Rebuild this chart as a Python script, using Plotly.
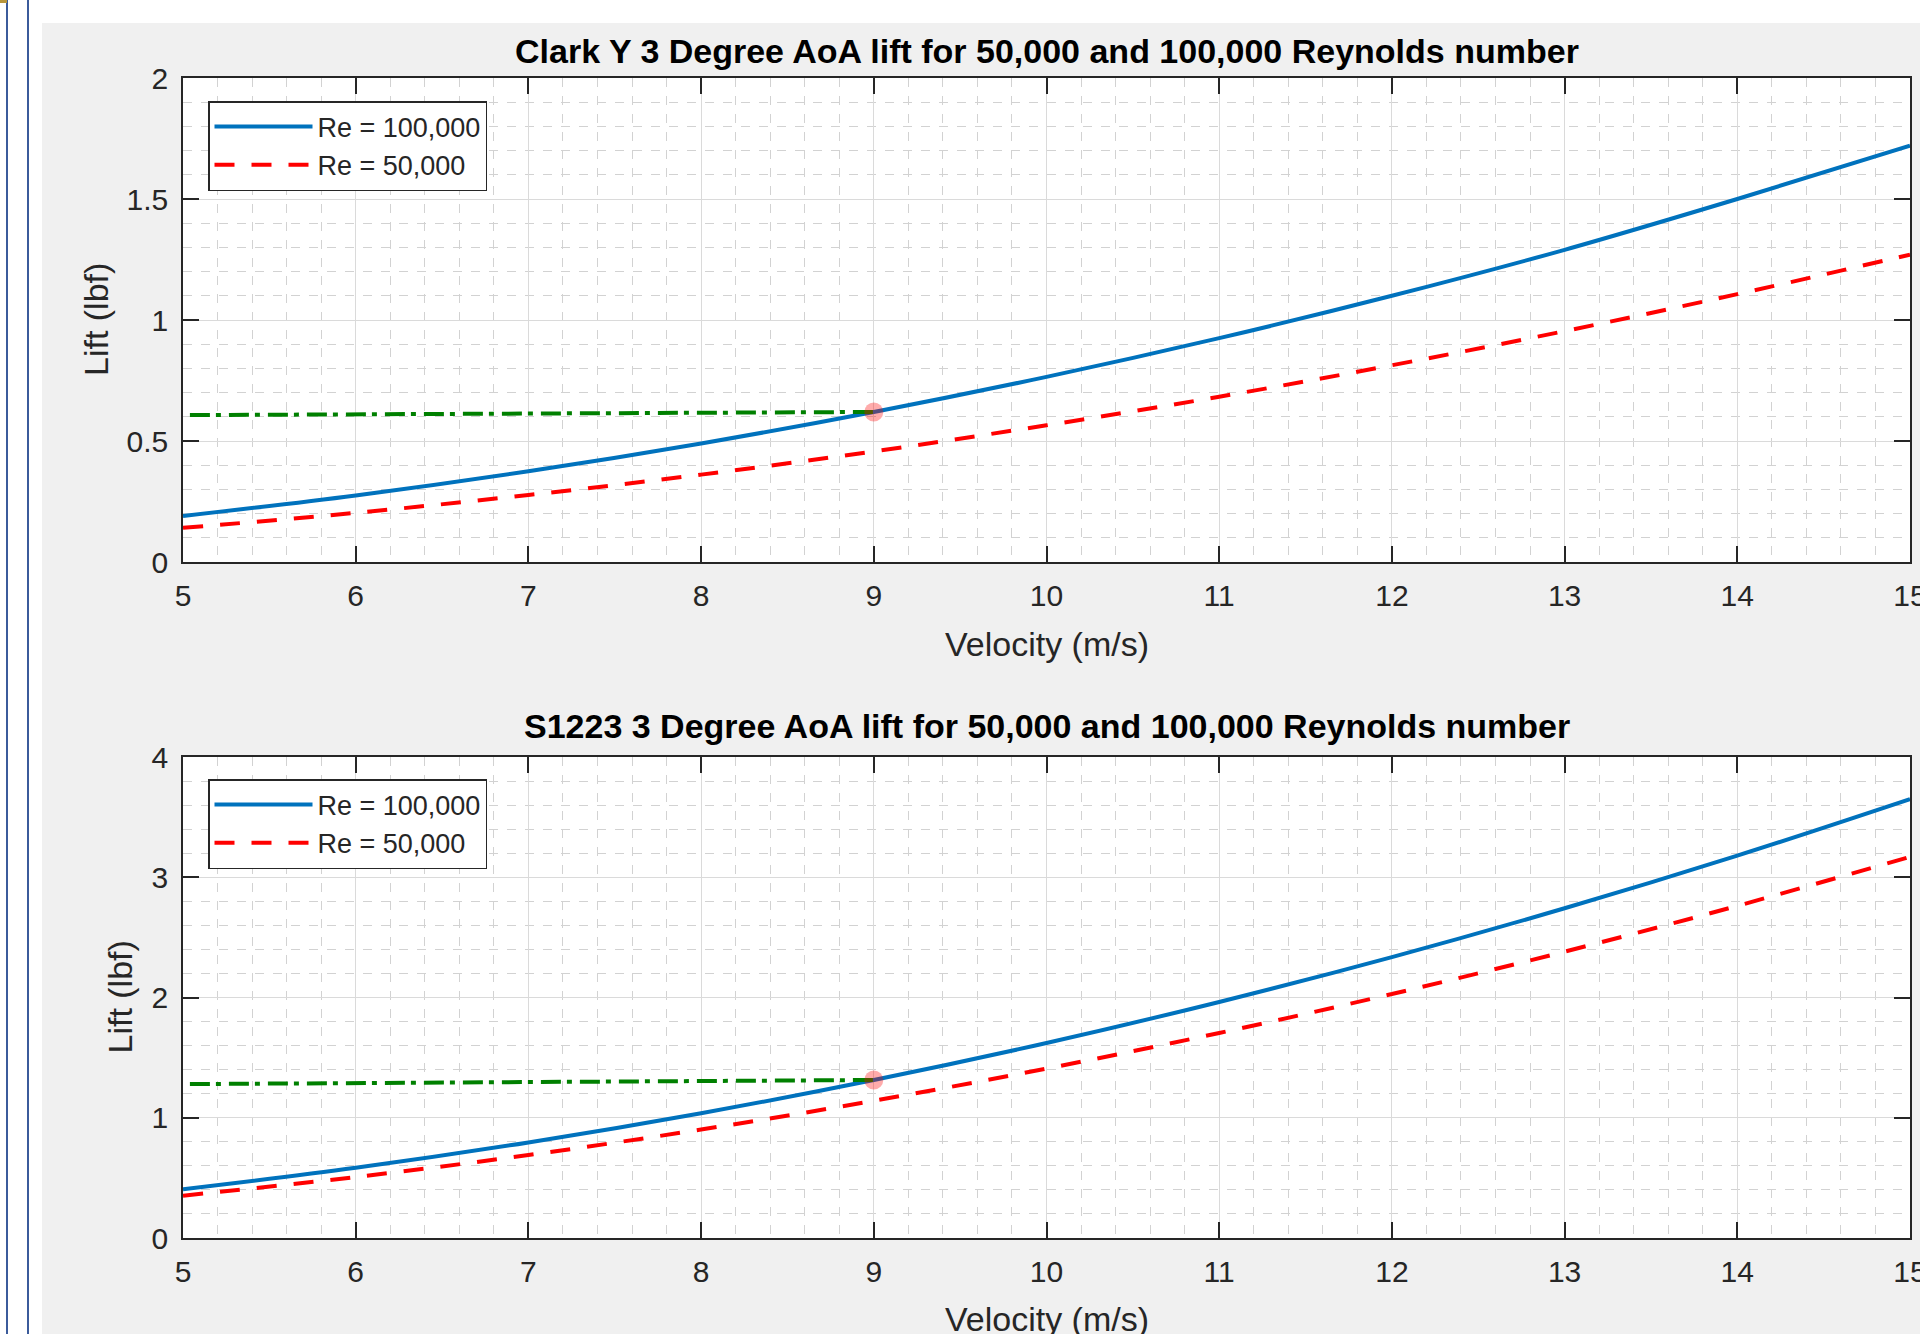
import plotly.graph_objects as go

# ---------------- data ----------------
velocity = [5, 6, 7, 8, 9, 10, 11, 12, 13, 14, 15]
clark_re100k = [0.19, 0.275, 0.375, 0.49, 0.62, 0.765, 0.925, 1.10, 1.29, 1.50, 1.72]
clark_re50k = [0.141, 0.203, 0.277, 0.361, 0.457, 0.565, 0.683, 0.813, 0.954, 1.107, 1.27]
s1223_re100k = [0.406, 0.584, 0.795, 1.038, 1.314, 1.622, 1.963, 2.336, 2.742, 3.18, 3.65]
s1223_re50k = [0.352, 0.507, 0.690, 0.902, 1.141, 1.409, 1.705, 2.029, 2.381, 2.762, 3.17]
design_velocity = [5.04, 9]
clark_design_lift = [0.607, 0.62]
s1223_design_lift = [1.28, 1.314]
marker_velocity = [9]
clark_marker_lift = [0.62]
s1223_marker_lift = [1.314]

x_ticks = [5, 6, 7, 8, 9, 10, 11, 12, 13, 14, 15]
top_y_ticks = [0, 0.5, 1, 1.5, 2]
bottom_y_ticks = [0, 1, 2, 3, 4]

titles = ["Clark Y 3 Degree AoA lift for 50,000 and 100,000 Reynolds number",
          "S1223 3 Degree AoA lift for 50,000 and 100,000 Reynolds number"]
x_label = "Velocity (m/s)"
y_label = "Lift (lbf)"
legend_names = ["Re = 100,000", "Re = 50,000"]

# ---------------- styling ----------------
W, H = 1920, 1334
FONT = "Liberation Sans, Arial, Helvetica, sans-serif"
BLUE = "#0072BD"
RED = "#FF0000"
GREEN = "#008000"
AX = "#262626"


def px_x(p):
    """page x pixel -> paper fraction"""
    return p / W


def px_y(p):
    """page y pixel -> paper fraction"""
    return 1 - p / H


fig = go.Figure()

panels = [
    dict(xa="x", ya="y", leg="legend", blue=clark_re100k, red=clark_re50k,
         green=clark_design_lift, mk=clark_marker_lift),
    dict(xa="x2", ya="y2", leg="legend2", blue=s1223_re100k, red=s1223_re50k,
         green=s1223_design_lift, mk=s1223_marker_lift),
]

for p in panels:
    fig.add_trace(go.Scatter(x=velocity, y=p["blue"], mode="lines", name=legend_names[0],
                             line=dict(color=BLUE, width=4, shape="spline"),
                             xaxis=p["xa"], yaxis=p["ya"], legend=p["leg"]))
    fig.add_trace(go.Scatter(x=velocity, y=p["red"], mode="lines", name=legend_names[1],
                             line=dict(color=RED, width=4, dash="20px,17px", shape="spline"),
                             xaxis=p["xa"], yaxis=p["ya"], legend=p["leg"]))
    fig.add_trace(go.Scatter(x=design_velocity, y=p["green"], mode="lines", showlegend=False,
                             line=dict(color=GREEN, width=4, dash="20px,6px,5px,8px"),
                             xaxis=p["xa"], yaxis=p["ya"]))
    fig.add_trace(go.Scatter(x=marker_velocity, y=p["mk"], mode="markers", showlegend=False,
                             marker=dict(color="rgba(255,0,0,0.33)", size=19, line=dict(width=0)),
                             xaxis=p["xa"], yaxis=p["ya"]))

axis_common = dict(
    automargin=False,
    showline=True, linecolor=AX, linewidth=1.5, mirror="ticks",
    ticks="inside", ticklen=16, tickwidth=1.5, tickcolor=AX,
    showgrid=True, gridcolor="#dadada", gridwidth=1, zeroline=False,
    tickfont=dict(family=FONT, size=30, color=AX),
    ticklabeloverflow="allow",
)
minor_x = dict(dtick=0.2, showgrid=True, gridcolor="#d2d2d2", griddash="dash", gridwidth=1)

x_dom = [px_x(183), px_x(1910)]
fig.update_layout(
    xaxis=dict(axis_common, domain=x_dom, range=[5, 15], tickvals=x_ticks, anchor="y",
               ticklabelstandoff=6, minor=minor_x),
    yaxis=dict(axis_common, domain=[px_y(562), px_y(78)], range=[0, 2], tickvals=top_y_ticks,
               anchor="x", ticklabelstandoff=7,
               minor=dict(dtick=0.1, showgrid=True, gridcolor="#d2d2d2", griddash="dash", gridwidth=1)),
    xaxis2=dict(axis_common, domain=x_dom, range=[5, 15], tickvals=x_ticks, anchor="y2",
                ticklabelstandoff=6, minor=minor_x),
    yaxis2=dict(axis_common, domain=[px_y(1238), px_y(757)], range=[0, 4], tickvals=bottom_y_ticks,
                anchor="x2", ticklabelstandoff=7,
                minor=dict(dtick=0.2, showgrid=True, gridcolor="#d2d2d2", griddash="dash", gridwidth=1)),
)

legend_common = dict(
    xref="paper", yref="paper", xanchor="left", yanchor="top",
    bgcolor="white", bordercolor=AX, borderwidth=1.5,
    font=dict(family=FONT, size=27, color=AX),
    tracegroupgap=0, itemwidth=98,
)
fig.update_layout(
    legend=dict(legend_common, x=px_x(208), y=px_y(101)),
    legend2=dict(legend_common, x=px_x(208), y=px_y(779)),
)

# titles and axis labels
annots = []
xc = px_x((183 + 1910) / 2)
for text, ypx in [(titles[0], 51), (titles[1], 726)]:
    annots.append(dict(text="<b>%s</b>" % text, x=xc, y=px_y(ypx), xref="paper", yref="paper",
                       xanchor="center", yanchor="middle", showarrow=False,
                       font=dict(family=FONT, size=34, color="black")))
for ypx in [644, 1319]:
    annots.append(dict(text=x_label, x=xc, y=px_y(ypx), xref="paper", yref="paper",
                       xanchor="center", yanchor="middle", showarrow=False,
                       font=dict(family=FONT, size=34, color=AX)))
for xpx, ypx in [(96, 320), (119, 997.5)]:
    annots.append(dict(text=y_label, x=px_x(xpx), y=px_y(ypx), xref="paper", yref="paper",
                       xanchor="center", yanchor="middle", showarrow=False, textangle=-90,
                       font=dict(family=FONT, size=34, color=AX)))

# window frame around the grey figure panel
shapes = [
    dict(type="rect", xref="paper", yref="paper", x0=0, x1=px_x(42), y0=0, y1=1,
         fillcolor="white", line=dict(width=0), layer="below"),
    dict(type="rect", xref="paper", yref="paper", x0=0, x1=1, y0=px_y(23), y1=1,
         fillcolor="white", line=dict(width=0), layer="below"),
    dict(type="line", xref="paper", yref="paper", x0=px_x(7), x1=px_x(7), y0=0, y1=1,
         line=dict(color="#3b5b9b", width=2), layer="below"),
    dict(type="line", xref="paper", yref="paper", x0=px_x(28), x1=px_x(28), y0=0, y1=1,
         line=dict(color="#3b5b9b", width=2), layer="below"),
    dict(type="rect", xref="paper", yref="paper", x0=0, x1=px_x(7), y0=px_y(3), y1=1,
         fillcolor="#b8963c", line=dict(width=0), layer="below"),
]

fig.update_layout(
    width=W, height=H, autosize=False,
    margin=dict(l=0, r=0, t=0, b=0, autoexpand=False),
    paper_bgcolor="#f0f0f0", plot_bgcolor="white",
    annotations=annots, shapes=shapes,
    font=dict(family=FONT, color=AX),
)

fig.write_html(
    "out.html",
    config={"displayModeBar": False},
    post_script="document.body.style.margin='0';document.body.style.overflow='hidden';",
)
